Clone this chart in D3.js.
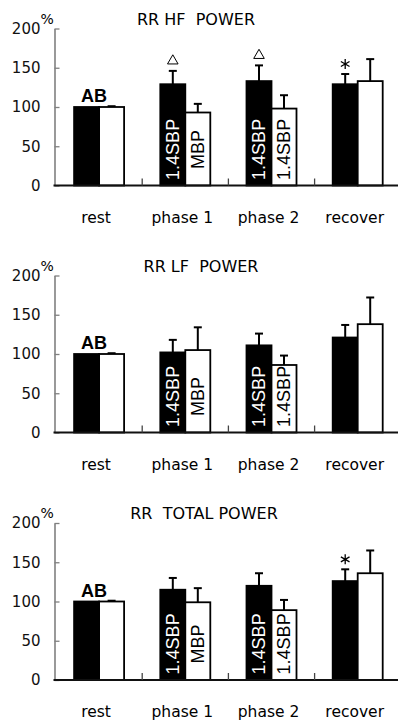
<!DOCTYPE html>
<html>
<head>
<meta charset="utf-8">
<script src="https://cdn.jsdelivr.net/npm/d3@7"></script>
<style>
  body { margin: 0; background: #fff; }
</style>
</head>
<body>
<svg id="chart" width="398" height="722"></svg>
<script>
// categories and tick values
var categories = ["rest", "phase 1", "phase 2", "recover"];
var yTicks = [0, 50, 100, 150, 200];
var titles = ["RR HF  POWER", "RR LF  POWER", "RR  TOTAL POWER"];

// mean values (% of rest) and SE
var hfBlack = [100, 129, 133, 129];
var hfBlackErr = [0, 17, 20, 13];
var hfWhite = [100, 93, 98, 133];
var hfWhiteErr = [1, 11, 17, 28];

var lfBlack = [100, 102, 111, 121];
var lfBlackErr = [0, 16, 15, 16];
var lfWhite = [100, 105, 86, 138];
var lfWhiteErr = [1, 29, 12, 34];

var totBlack = [100, 115, 120, 126];
var totBlackErr = [0, 15, 16, 15];
var totWhite = [100, 99, 89, 136];
var totWhiteErr = [1, 18, 13, 29];

// labels written inside the bars (phase 1, phase 2)
var barLabelCats = ["phase 1", "phase 2"];
var barLabelsBlack = ["1.4SBP", "1.4SBP"];
var barLabelsWhite = ["MBP", "1.4SBP"];

// significance marks: panel index, category, symbol
var markPanels = [0, 0, 0, 2];
var markCats = ["phase 1", "phase 2", "recover", "recover"];
var markTypes = ["triangle", "triangle", "star", "star"];

var panels = [
    {title: titles[0], black: hfBlack, blackErr: hfBlackErr, white: hfWhite, whiteErr: hfWhiteErr},
    {title: titles[1], black: lfBlack, blackErr: lfBlackErr, white: lfWhite, whiteErr: lfWhiteErr},
    {title: titles[2], black: totBlack, blackErr: totBlackErr, white: totWhite, whiteErr: totWhiteErr}
];

var svg = d3.select("#chart");
var axisX = 54.5,
    plotH = 157,
    baselines = [185.5, 432.5, 680],
    titleX = [196, 201, 204];

var x = d3.scaleBand()
    .domain(categories)
    .range([56, 400.8])
    .paddingInner(0);

var sub = d3.scaleBand()
    .domain(["black", "white"])
    .range([-25, 25]);

var numFont = "'DejaVu Sans', sans-serif";
var arial = "'Liberation Sans', Arial, sans-serif";

panels.forEach(function(p, pi) {
    var base = baselines[pi];
    var y = d3.scaleLinear().domain([0, 200]).range([base, base - plotH]);
    var g = svg.append("g");

    // title
    g.append("text")
        .attr("x", titleX[pi])
        .attr("y", y(200) - 4)
        .attr("text-anchor", "middle")
        .style("white-space", "pre")
        .style("font-family", numFont)
        .style("font-size", "16px")
        .text(p.title);

    // y axis, ticks pointing inwards
    var yAxis = g.append("g")
        .attr("transform", "translate(" + axisX + ",0)")
        .call(d3.axisLeft(y).tickValues(yTicks).tickSizeInner(-5).tickSizeOuter(0).tickPadding(14));
    yAxis.select(".domain").attr("stroke", "#808080").attr("stroke-width", 1.6);
    yAxis.selectAll(".tick line").attr("stroke", "#808080").attr("stroke-width", 1.3);
    yAxis.selectAll(".tick text")
        .style("font-family", numFont)
        .style("font-size", "15px")
        .attr("fill", "#111");

    g.append("text")
        .attr("x", axisX - 14)
        .attr("y", y(200) - 5)
        .style("font-family", numFont)
        .style("font-size", "14px")
        .text("%");

    // bars
    var rows = categories.map(function(c, i) {
        return [
            {cat: c, s: "black", v: p.black[i], e: p.blackErr[i]},
            {cat: c, s: "white", v: p.white[i], e: p.whiteErr[i]}
        ];
    });
    var flat = [].concat.apply([], rows);
    function cx(d) { return x(d.cat) + x.bandwidth() / 2 + sub(d.s) + sub.bandwidth() / 2; }

    // error bars (upper half only)
    var withErr = flat.filter(function(d) { return d.e > 0; });
    g.selectAll(".err")
        .data(withErr)
        .enter()
        .append("line")
            .attr("x1", cx)
            .attr("x2", cx)
            .attr("y1", function(d) { return y(d.v); })
            .attr("y2", function(d) { return y(d.v + d.e); })
            .attr("stroke", "#000")
            .attr("stroke-width", 2);
    g.selectAll(".cap")
        .data(withErr)
        .enter()
        .append("line")
            .attr("x1", function(d) { return cx(d) - 4; })
            .attr("x2", function(d) { return cx(d) + 4; })
            .attr("y1", function(d) { return y(d.v + d.e); })
            .attr("y2", function(d) { return y(d.v + d.e); })
            .attr("stroke", "#000")
            .attr("stroke-width", 2);

    g.selectAll(".bar")
        .data(flat)
        .enter()
        .append("rect")
            .attr("x", function(d) { return x(d.cat) + x.bandwidth() / 2 + sub(d.s); })
            .attr("y", function(d) { return y(d.v); })
            .attr("width", sub.bandwidth())
            .attr("height", function(d) { return y(0) - y(d.v); })
            .attr("fill", function(d) { return d.s === "black" ? "#000" : "#fff"; })
            .attr("stroke", "#000")
            .attr("stroke-width", 1.8);

    // x axis line and boundary ticks
    g.append("line")
        .attr("x1", axisX - 1)
        .attr("x2", 398)
        .attr("y1", y(0))
        .attr("y2", y(0))
        .attr("stroke", "#111")
        .attr("stroke-width", 1.8);
    g.selectAll(".xtick")
        .data(categories.slice(1))
        .enter()
        .append("line")
            .attr("x1", function(d) { return x(d); })
            .attr("x2", function(d) { return x(d); })
            .attr("y1", y(0))
            .attr("y2", y(0) - 7)
            .attr("stroke", "#444")
            .attr("stroke-width", 1.3);

    // category labels
    g.selectAll(".xlab")
        .data(categories)
        .enter()
        .append("text")
            .attr("x", function(d) { return x(d) + x.bandwidth() / 2 - 3; })
            .attr("y", y(0) + 37)
            .attr("text-anchor", "middle")
            .style("font-family", numFont)
            .style("font-size", "15.5px")
            .text(function(d) { return d; });

    // "AB" above rest
    g.append("text")
        .attr("x", x("rest") + x.bandwidth() / 2 - 5)
        .attr("y", y(100) - 5)
        .attr("text-anchor", "middle")
        .style("font-family", arial)
        .style("font-weight", "bold")
        .style("font-size", "18px")
        .text("AB");

    // rotated labels inside bars
    barLabelCats.forEach(function(c, k) {
        [["black", barLabelsBlack[k], "#fff"], ["white", barLabelsWhite[k], "#000"]].forEach(function(b) {
            var bx = cx({cat: c, s: b[0]}) + 6.4;
            g.append("text")
                .attr("transform", "translate(" + bx + "," + y(46) + ") rotate(-90)")
                .attr("text-anchor", "middle")
                .style("font-family", arial)
                .style("font-size", "18px")
                .attr("fill", b[2])
                .text(b[1]);
        });
    });

    // significance marks
    markPanels.forEach(function(mp, k) {
        if (mp !== pi) return;
        var i = categories.indexOf(markCats[k]);
        var d = {cat: markCats[k], s: "black"};
        var top = y(p.black[i] + p.blackErr[i]);
        var sym = markTypes[k] === "triangle"
            ? d3.symbol(d3.symbolTriangle2, 80)
            : d3.symbol(d3.symbolAsterisk, 70);
        g.append("path")
            .attr("d", sym())
            .attr("transform", "translate(" + cx(d) + "," + (top - 10) + ")")
            .attr("fill", "none")
            .attr("stroke", "#000")
            .attr("stroke-width", markTypes[k] === "triangle" ? 1 : 1.3);
    });
});
</script>
</body>
</html>
